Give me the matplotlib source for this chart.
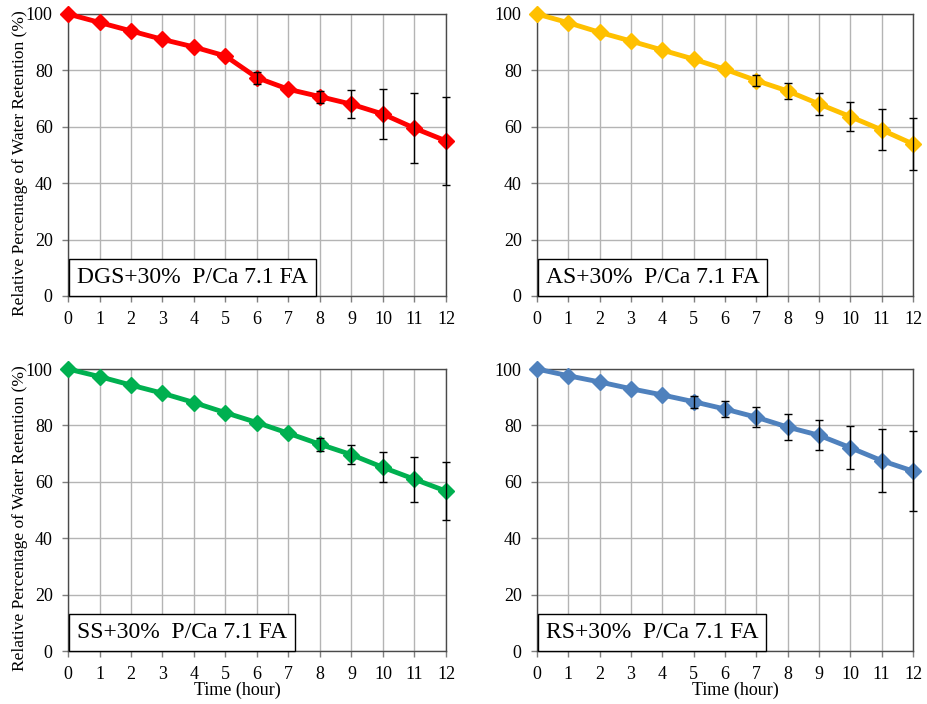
import matplotlib
matplotlib.use("Agg")
import matplotlib.pyplot as plt
import numpy as np

plt.rcParams['font.family'] = ['Liberation Serif', 'DejaVu Serif']

hours = list(range(13))
yticks = [0, 20, 40, 60, 80, 100]

dgs_vals = [100, 97.0, 94.0, 91.0, 88.3, 85.1, 77.4, 73.3, 70.7, 68.0, 64.5, 59.5, 55.0]
dgs_err = [0, 0, 0, 0, 0, 0, 2.2, 0, 2.1, 4.9, 8.8, 12.4, 15.5]
as_vals = [100, 96.9, 93.5, 90.4, 87.2, 84.0, 80.4, 76.4, 72.7, 68.1, 63.6, 58.9, 53.9]
as_err = [0, 0, 0, 0, 0, 0, 0, 1.9, 2.9, 3.9, 5.2, 7.3, 9.3]
ss_vals = [100, 97.3, 94.3, 91.4, 88.1, 84.5, 81.0, 77.2, 73.3, 69.6, 65.1, 60.9, 56.7]
ss_err = [0, 0, 0, 0, 0, 0, 0, 0, 2.3, 3.4, 5.3, 8.0, 10.2]
rs_vals = [100, 97.6, 95.4, 93.0, 90.8, 88.4, 85.8, 82.9, 79.4, 76.5, 72.1, 67.5, 63.8]
rs_err = [0, 0, 0, 0, 0, 2.1, 2.7, 3.6, 4.5, 5.4, 7.6, 11.2, 14.2]

labels = ["DGS+30%  P/Ca 7.1 FA", "AS+30%  P/Ca 7.1 FA", "SS+30%  P/Ca 7.1 FA", "RS+30%  P/Ca 7.1 FA"]
colors = ["#FF0000", "#FFC000", "#00B050", "#4F81BD"]
series = [(dgs_vals, dgs_err), (as_vals, as_err), (ss_vals, ss_err), (rs_vals, rs_err)]

W, H = 927, 704
fig = plt.figure(figsize=(W / 100, H / 100), dpi=100)

boxes = [(68, 446, 14, 296), (537, 913, 14, 296), (68, 446, 369, 651), (537, 913, 369, 651)]
xlabel_x = {2: 0.447, 3: 0.527}

for i, (b, lab, col, (vals, err)) in enumerate(zip(boxes, labels, colors, series)):
    l, r, t, bt = b
    ax = fig.add_axes([l / W, 1 - bt / H, (r - l) / W, (bt - t) / H])
    ax.set_xlim(0, 12)
    ax.set_ylim(0, 100)
    ax.set_xticks(hours)
    ax.set_yticks(yticks)
    ax.grid(True, color="#b4b4b4", linewidth=1.0)
    ax.set_axisbelow(True)
    for s in ax.spines.values():
        s.set_color("#4a4a4a")
        s.set_linewidth(1.0)
    ax.tick_params(direction="out", length=4, width=1, color="#7f7f7f", labelsize=13)
    ax.tick_params(axis="x", pad=7)
    ax.tick_params(axis="y", pad=7)
    ax.plot(hours, vals, color=col, linewidth=3.5, marker="D", markersize=8.5, clip_on=False, zorder=3)
    v = np.array(vals, dtype=float)
    e = np.array(err, dtype=float)
    m = e > 0
    ax.errorbar(np.array(hours)[m], v[m], yerr=e[m], fmt="none", ecolor="black", elinewidth=1.0,
                capsize=2.8, capthick=1.0, clip_on=False, zorder=4)
    pad = 0.33 * 17
    ax.annotate(lab, xy=(0, 0), xycoords="axes fraction", xytext=(pad + 0.8, pad + 0.3),
                textcoords="offset points", fontsize=17, ha="left", va="bottom",
                bbox=dict(boxstyle="square,pad=0.33", facecolor="white", edgecolor="black", linewidth=1.0),
                zorder=5)
    if i % 2 == 0:
        ax.set_ylabel("Relative Percentage of Water Retention (%)", fontsize=12.5)
        ax.yaxis.set_label_coords(-0.107, 0.47)
    if i >= 2:
        ax.set_xlabel("Time (hour)", fontsize=13)
        ax.xaxis.set_label_coords(xlabel_x[i], -0.108)

fig.savefig("out.png", dpi=100)
